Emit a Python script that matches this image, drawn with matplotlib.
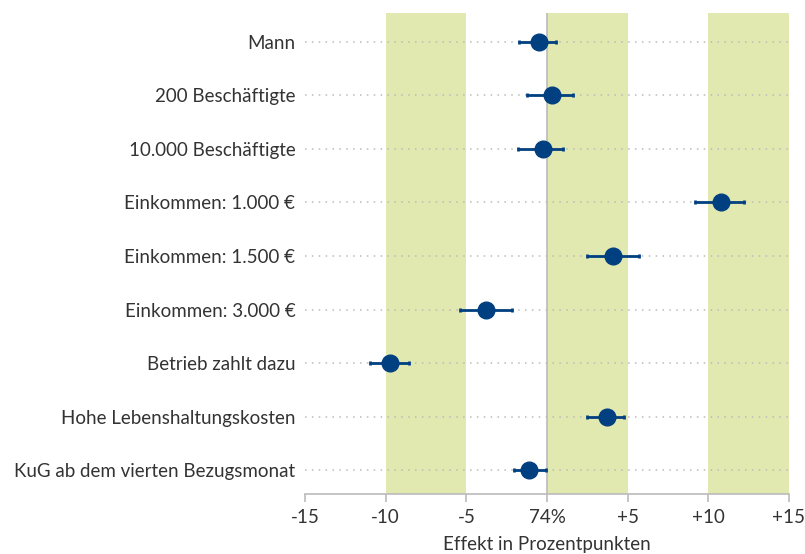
import matplotlib
matplotlib.use('Agg')
import matplotlib.pyplot as plt

# Data
categories = ['Mann', '200 Beschäftigte', '10.000 Beschäftigte',
              'Einkommen: 1.000 €', 'Einkommen: 1.500 €', 'Einkommen: 3.000 €',
              'Betrieb zahlt dazu', 'Hohe Lebenshaltungskosten',
              'KuG ab dem vierten Bezugsmonat']
effect = [-0.5, 0.31, -0.27, 10.77, 4.11, -3.76, -9.71, 3.72, -1.10]
ci_low = [-1.72, -1.24, -1.82, 9.16, 2.46, -5.37, -10.95, 2.50, -2.07]
ci_high = [0.58, 1.63, 0.99, 12.21, 5.68, -2.15, -8.56, 4.77, -0.08]

xticks = [-15, -10, -5, 0, 5, 10, 15]
xticklabels = ['-15', '-10', '-5', '74%', '+5', '+10', '+15']
bands = [(-10, -5), (0, 5), (10, 15)]

BLUE = '#003f80'
GREEN = '#e1e9b1'
GREY = '#bbbbbb'
TEXT = '#333333'

plt.rcParams['font.family'] = ['Lato', 'DejaVu Sans']

fig = plt.figure(figsize=(8.05, 5.54), dpi=100)
ax = fig.add_axes([0.379, 0.108, 0.601, 0.8685])

for lo, hi in bands:
    ax.axvspan(lo, hi, color=GREEN, lw=0, zorder=0)
ax.axvline(0, color=GREY, lw=1.2, zorder=1)

ypos = list(range(len(categories)))
for y in ypos:
    ax.axhline(y, color=GREY, lw=1.1, ls=(0, (1, 3.5)), zorder=1)

err = [[e - l for e, l in zip(effect, ci_low)],
       [h - e for e, h in zip(effect, ci_high)]]
ax.errorbar(effect, ypos, xerr=err, fmt='o', color=BLUE, ms=12,
            elinewidth=2, capsize=1.5, capthick=2, zorder=3)

ax.set_xlim(-15, 15)
ax.set_ylim(8.45, -0.54)
ax.set_yticks(ypos)
ax.set_yticklabels(categories, fontsize=13.5, color=TEXT)
ax.tick_params(axis='y', length=0, pad=7)
ax.set_xticks(xticks)
ax.set_xticklabels(xticklabels, fontsize=13.5, color=TEXT)
ax.tick_params(axis='x', length=6, color=GREY, width=1.2, pad=5)
ax.set_xlabel('Effekt in Prozentpunkten', fontsize=13.5, color=TEXT, labelpad=7)

for s in ['top', 'right', 'left']:
    ax.spines[s].set_visible(False)
ax.spines['bottom'].set_color(GREY)
ax.spines['bottom'].set_linewidth(1.2)

fig.savefig('out.png', dpi=100)
